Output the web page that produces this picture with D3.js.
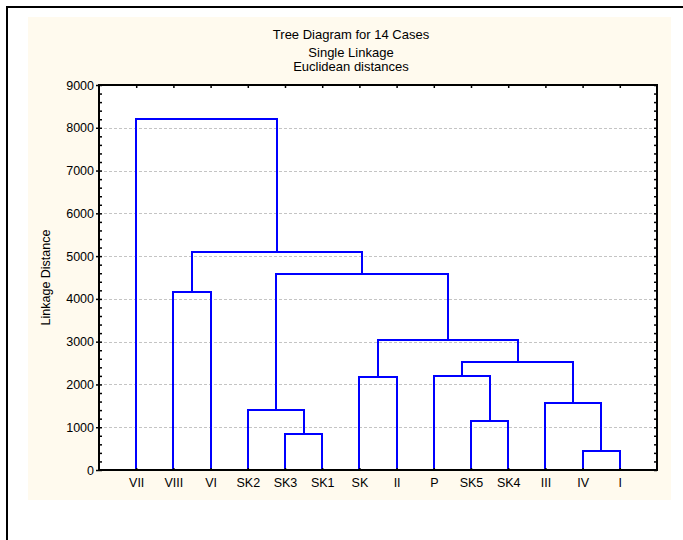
<!DOCTYPE html>
<html>
<head>
<meta charset="utf-8">
<script src="https://cdn.jsdelivr.net/npm/d3@7"></script>
<style>
  html, body { margin: 0; padding: 0; background: #ffffff; }
  svg { display: block; }
  text { font-family: "Liberation Sans", Arial, sans-serif; fill: #000; }
</style>
</head>
<body>
<script>
// Leaf order along the x axis
const cases = ["VII", "VIII", "VI", "SK2", "SK3", "SK1", "SK", "II", "P", "SK5", "SK4", "III", "IV", "I"];

// Agglomeration steps: a child is a case name or the index of an earlier step
const mergeLeft   = ["IV",  "SK3", "SK5", "SK2", "III", "SK",  "P",  6,    5,    "VIII", 3,    9,    "VII"];
const mergeRight  = ["I",   "SK1", "SK4", 1,     0,     "II",  2,    4,    7,    "VI",   8,    10,   11];
const mergeHeight = [440,   850,   1150,  1400,  1560,  2170,  2190, 2520, 3040, 4160,   4580, 5100, 8200];

const yTicks = [0, 1000, 2000, 3000, 4000, 5000, 6000, 7000, 8000, 9000];
const titleLines = ["Tree Diagram for 14 Cases", "Single Linkage", "Euclidean distances"];
const yTitle = "Linkage Distance";

const W = 683, H = 540;
const plot = { left: 99, right: 657, top: 85, bottom: 470 };
const FONT = "Liberation Sans, Arial, sans-serif";

const svg = d3.select("body").append("svg").attr("width", W).attr("height", H);

// outer frame (left and top edges visible)
svg.append("line").attr("x1", 7).attr("x2", 7).attr("y1", 6).attr("y2", H)
  .attr("stroke", "#000").attr("stroke-width", 2);
svg.append("line").attr("x1", 6).attr("x2", W).attr("y1", 7).attr("y2", 7)
  .attr("stroke", "#000").attr("stroke-width", 2);

// graph panel background
svg.append("rect").attr("x", 28).attr("y", 17).attr("width", 643).attr("height", 483)
  .attr("fill", "#fffaee");

// plot area
svg.append("rect").attr("x", plot.left).attr("y", plot.top)
  .attr("width", plot.right - plot.left).attr("height", plot.bottom - plot.top)
  .attr("fill", "#ffffff");

const x = d3.scaleLinear().domain([0, cases.length + 1]).range([plot.left, plot.right]);
const y = d3.scaleLinear().domain([0, 9000]).range([plot.bottom, plot.top]);

// titles
const titleY = [39, 57, 71];
titleLines.forEach((t, i) => {
  svg.append("text").attr("x", 351).attr("y", titleY[i])
    .attr("text-anchor", "middle").attr("font-size", 13).text(t);
});

// gridlines
svg.append("g").selectAll("line").data(yTicks.filter(v => v > 0 && v < 9000)).join("line")
  .attr("x1", plot.left).attr("x2", plot.right)
  .attr("y1", d => Math.round(y(d)) + 0.5).attr("y2", d => Math.round(y(d)) + 0.5)
  .attr("stroke", "#c4c4c4").attr("stroke-width", 1).attr("stroke-dasharray", "3,2");

// dendrogram geometry
const leafX = {};
cases.forEach((c, i) => { leafX[c] = x(i + 1); });
const nodeX = [];
const childPos = ch => (typeof ch === "number")
  ? { x: nodeX[ch], h: mergeHeight[ch] }
  : { x: leafX[ch], h: 0 };
const px = v => Math.round(v);

const links = svg.append("g").attr("fill", "none").attr("stroke", "#0000ff")
  .attr("stroke-width", 2).attr("stroke-linejoin", "miter").attr("stroke-linecap", "square");
mergeHeight.forEach((h, i) => {
  const a = childPos(mergeLeft[i]), b = childPos(mergeRight[i]);
  nodeX[i] = (a.x + b.x) / 2;
  const p = d3.path();
  p.moveTo(px(a.x), px(y(a.h)));
  p.lineTo(px(a.x), px(y(h)));
  p.lineTo(px(b.x), px(y(h)));
  p.lineTo(px(b.x), px(y(b.h)));
  links.append("path").attr("d", p.toString());
});

// axes
const minor = d3.range(0, 9001, 200);
const leftAxis = svg.append("g").attr("transform", `translate(${plot.left},0)`)
  .call(d3.axisLeft(y).tickValues(yTicks).tickSize(3).tickPadding(2).tickFormat(d3.format("d")));
leftAxis.attr("font-size", null).attr("font-family", null);
leftAxis.selectAll("text").attr("font-size", 12.5).attr("font-family", FONT);
leftAxis.select(".domain").remove();
svg.append("g").attr("transform", `translate(${plot.left},0)`)
  .call(d3.axisRight(y).tickValues(minor).tickSize(3).tickFormat(""))
  .select(".domain").remove();
svg.append("g").attr("transform", `translate(${plot.right},0)`)
  .call(d3.axisLeft(y).tickValues(minor).tickSize(3).tickFormat(""))
  .select(".domain").remove();

const leafIdx = d3.range(1, cases.length + 1);
const bottomAxis = svg.append("g").attr("transform", `translate(0,${plot.bottom})`)
  .call(d3.axisBottom(x).tickValues(leafIdx).tickSize(0).tickPadding(8)
    .tickFormat(d => cases[d - 1]));
bottomAxis.attr("font-size", null).attr("font-family", null);
bottomAxis.select(".domain").remove();
bottomAxis.selectAll("text").attr("font-size", 12.5).attr("font-family", FONT);
svg.append("g").attr("transform", `translate(0,${plot.bottom})`)
  .call(d3.axisTop(x).tickValues(leafIdx).tickSize(2).tickFormat(""))
  .select(".domain").remove();
svg.append("g").attr("transform", `translate(0,${plot.top})`)
  .call(d3.axisBottom(x).tickValues(leafIdx).tickSize(3).tickFormat(""))
  .select(".domain").remove();

svg.selectAll(".tick line").attr("stroke", "#000").attr("stroke-width", 1.5);

// plot frame
svg.append("rect").attr("x", plot.left).attr("y", plot.top)
  .attr("width", plot.right - plot.left).attr("height", plot.bottom - plot.top)
  .attr("fill", "none").attr("stroke", "#000").attr("stroke-width", 2);

// y axis title
svg.append("text")
  .attr("transform", `translate(50,${(plot.top + plot.bottom) / 2}) rotate(-90)`)
  .attr("text-anchor", "middle").attr("font-size", 12.5).text(yTitle);
</script>
</body>
</html>
